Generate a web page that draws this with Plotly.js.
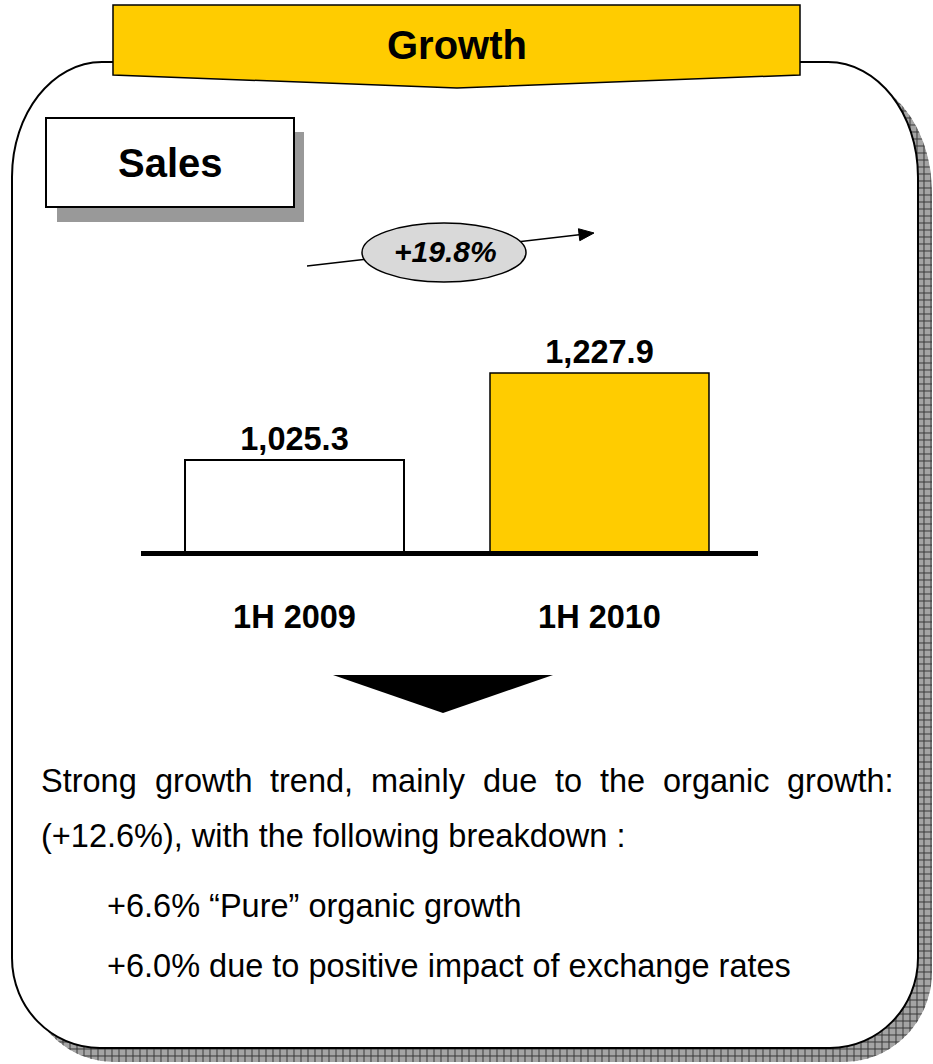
<!DOCTYPE html>
<html>
<head>
<meta charset="utf-8">
<script src="https://cdn.plot.ly/plotly-3.0.1.min.js"></script>
<style>html,body{margin:0;padding:0;background:#fff;}#chart{width:933px;height:1064px;}</style>
</head>
<body>
<div id="chart"></div>
<script>
// ---- data ----
const categories = ['1H 2009', '1H 2010'];
const sales = [1025.3, 1227.9];
const growthLabel = '+19.8%';
const titleText = 'Growth';
const boxTitle = 'Sales';
const line1Words = ['Strong', 'growth', 'trend,', 'mainly', 'due', 'to', 'the', 'organic', 'growth:'];
const line2 = '(+12.6%), with the following breakdown :';
const line3 = '+6.6% \u201cPure\u201d organic growth';
const line4 = '+6.0% due to positive impact of exchange rates';

// ---- helpers (pixel -> paper) ----
const W = 933, H = 1064;
const X = p => p / W;
const Y = p => 1 - p / H;
const P = (x, y) => X(x).toFixed(5) + ',' + Y(y).toFixed(5);
const FONT = 'Liberation Sans, Arial, sans-serif';

function roundRect(l, t, r, b, rxT, ryT, rxB, ryB) {
  const k = 0.5523;
  return 'M' + P(l + rxT, t) +
    ' L' + P(r - rxT, t) +
    ' C' + P(r - rxT + k * rxT, t) + ' ' + P(r, t + ryT - k * ryT) + ' ' + P(r, t + ryT) +
    ' L' + P(r, b - ryB) +
    ' C' + P(r, b - ryB + k * ryB) + ' ' + P(r - rxB + k * rxB, b) + ' ' + P(r - rxB, b) +
    ' L' + P(l + rxB, b) +
    ' C' + P(l + rxB - k * rxB, b) + ' ' + P(l, b - ryB + k * ryB) + ' ' + P(l, b - ryB) +
    ' L' + P(l, t + ryT) +
    ' C' + P(l, t + ryT - k * ryT) + ' ' + P(l + rxT - k * rxT, t) + ' ' + P(l + rxT, t) + ' Z';
}

const box = {l: 12, t: 62, r: 918, b: 1048, rxT: 90, ryT: 115, rxB: 88, ryB: 90};
const off = 14;
const shadowPath = roundRect(box.l + off, box.t + off, box.r + off, box.b + off, box.rxT, box.ryT, box.rxB, box.ryB);
const mainPath = roundRect(box.l, box.t, box.r, box.b, box.rxT, box.ryT, box.rxB, box.ryB);

// grid lines for hatched shadow
let grid = '';
for (let x = 14; x <= W; x += 7) grid += 'M' + P(x, 60) + ' L' + P(x, H) + ' ';
for (let y = 62; y <= H; y += 7) grid += 'M' + P(0, y) + ' L' + P(W, y) + ' ';
// mask: everything outside the shadow (outer rect counter-clockwise)
const maskPath = 'M' + P(0, 0) + ' L' + P(0, H) + ' L' + P(W, H) + ' L' + P(W, 0) + ' Z ' + shadowPath;

// arrow
const tip = [594, 233], tail = [307, 266];
const dx = tip[0] - tail[0], dy = tip[1] - tail[1], len = Math.hypot(dx, dy);
const ux = dx / len, uy = dy / len;
const bc = [tip[0] - 15 * ux, tip[1] - 15 * uy];
const headPath = 'M' + P(tip[0], tip[1]) + ' L' + P(bc[0] - 6 * uy, bc[1] + 6 * ux) + ' L' + P(bc[0] + 6 * uy, bc[1] - 6 * ux) + ' Z';

const shapes = [
  {type: 'path', xref: 'paper', yref: 'paper', path: shadowPath, fillcolor: '#a4a4a4', line: {width: 0}, layer: 'below'},
  {type: 'path', xref: 'paper', yref: 'paper', path: grid, line: {color: '#3a3a3a', width: 1}, layer: 'below'},
  {type: 'path', xref: 'paper', yref: 'paper', path: maskPath, fillcolor: '#ffffff', line: {width: 0}, layer: 'below'},
  {type: 'path', xref: 'paper', yref: 'paper', path: mainPath, fillcolor: '#ffffff', line: {color: '#000', width: 2}, layer: 'below'},
  // banner
  {type: 'path', xref: 'paper', yref: 'paper', path: 'M' + P(113, 5) + ' L' + P(800, 5) + ' L' + P(800, 75) + ' L' + P(457, 88) + ' L' + P(113, 75) + ' Z',
   fillcolor: '#FFCC00', line: {color: '#000', width: 1.5}, layer: 'below'},
  // sales box + shadow
  {type: 'rect', xref: 'paper', yref: 'paper', x0: X(57), x1: X(304), y0: Y(132), y1: Y(222), fillcolor: '#999999', line: {width: 0}, layer: 'below'},
  {type: 'rect', xref: 'paper', yref: 'paper', x0: X(46), x1: X(294), y0: Y(118), y1: Y(207), fillcolor: '#ffffff', line: {color: '#000', width: 2}, layer: 'below'},
  // arrow line
  {type: 'line', xref: 'paper', yref: 'paper', x0: X(tail[0]), y0: Y(tail[1]), x1: X(bc[0]), y1: Y(bc[1]), line: {color: '#000', width: 1.5}, layer: 'below'},
  {type: 'path', xref: 'paper', yref: 'paper', path: headPath, fillcolor: '#000', line: {color: '#000', width: 1}, layer: 'below'},
  // ellipse
  {type: 'circle', xref: 'paper', yref: 'paper', x0: X(362), x1: X(526), y0: Y(223), y1: Y(282), fillcolor: '#D9D9D9', line: {color: '#000', width: 1.5}, layer: 'below'},
  // down triangle
  {type: 'path', xref: 'paper', yref: 'paper', path: 'M' + P(333, 675) + ' L' + P(553, 675) + ' L' + P(443, 713) + ' Z', fillcolor: '#000', line: {width: 0}, layer: 'below'}
];

// justified first line
const TS = 32.5;
const cv = document.createElement('canvas').getContext('2d');
cv.font = TS + 'px "Liberation Sans", Arial, sans-serif';
const widths = line1Words.map(w => cv.measureText(w).width);
const L1 = 40, R1 = 893;
const gap = (R1 - L1 - widths.reduce((a, b) => a + b, 0)) / (line1Words.length - 1);
const annotations = [];
let cx = L1;
line1Words.forEach((w, i) => {
  annotations.push({xref: 'paper', yref: 'paper', x: X(cx), y: Y(781), xanchor: 'left', yanchor: 'middle', text: w, showarrow: false,
    font: {family: FONT, size: TS, color: '#000'}, borderpad: 0});
  cx += widths[i] + gap;
});
[[line2, 40, 836], [line3, 106, 906], [line4, 106, 966]].forEach(([t, x, y]) => {
  annotations.push({xref: 'paper', yref: 'paper', x: X(x), y: Y(y), xanchor: 'left', yanchor: 'middle', text: t, showarrow: false,
    font: {family: FONT, size: TS, color: '#000'}, borderpad: 0});
});
annotations.push({xref: 'paper', yref: 'paper', x: X(457), y: Y(45), xanchor: 'center', yanchor: 'middle', text: titleText, showarrow: false,
  font: {family: FONT, size: 40, color: '#000', weight: 'bold'}});
annotations.push({xref: 'paper', yref: 'paper', x: X(170), y: Y(163), xanchor: 'center', yanchor: 'middle', text: boxTitle, showarrow: false,
  font: {family: FONT, size: 40, color: '#000', weight: 'bold'}});
annotations.push({xref: 'paper', yref: 'paper', x: X(445), y: Y(252), xanchor: 'center', yanchor: 'middle', text: growthLabel, showarrow: false,
  font: {family: FONT, size: 30, color: '#000', weight: 'bold', style: 'italic'}});

const trace = {
  type: 'bar', x: categories, y: sales, width: 0.718,
  marker: {color: ['#FFFFFF', '#FFCC00'], line: {color: '#000', width: [2, 1.5]}},
  texttemplate: '%{y:,.1f}', textposition: 'outside', cliponaxis: false,
  textfont: {family: FONT, size: 32.5, color: '#000', weight: 'bold'},
  hoverinfo: 'skip'
};

const k = (460 - 373) / (sales[1] - sales[0]);
const yBottom = 551, yTop = 300;
const layout = {
  width: W, height: H, margin: {l: 0, r: 0, t: 0, b: 0},
  paper_bgcolor: '#ffffff', plot_bgcolor: 'rgba(0,0,0,0)', showlegend: false,
  xaxis: {domain: [X(141), X(758)], range: [-0.5033, 1.5197], type: 'category',
    showline: true, linecolor: '#000', linewidth: 5, showgrid: false, zeroline: false, ticks: '',
    tickfont: {family: FONT, size: 32.5, color: '#000', weight: 'bold'}, ticklabelstandoff: 33, fixedrange: true},
  yaxis: {domain: [Y(yBottom), Y(yTop)], range: [sales[0] - (yBottom - 460) / k, sales[0] + (460 - yTop) / k],
    visible: false, showgrid: false, zeroline: false, fixedrange: true},
  shapes: shapes, annotations: annotations
};

Plotly.newPlot('chart', [trace], layout, {staticPlot: true, displayModeBar: false});
</script>
</body>
</html>
